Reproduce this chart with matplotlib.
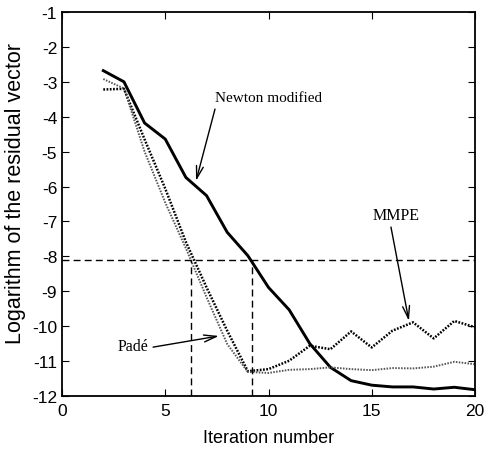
import matplotlib
matplotlib.use("Agg")
import matplotlib.pyplot as plt

# ---- data ----
iterations = list(range(2, 21))
newton_modified = [-2.68, -3.00, -4.18, -4.64, -5.74, -6.26, -7.31, -7.98, -8.89,
                   -9.53, -10.50, -11.18, -11.56, -11.69, -11.74, -11.74, -11.80, -11.75, -11.82]
mmpe = [-3.22, -3.20, -4.65, -6.06, -7.59, -8.89, -10.13, -11.29, -11.23,
        -10.99, -10.56, -10.66, -10.15, -10.61, -10.13, -9.89, -10.35, -9.85, -10.03]
pade = [-2.92, -3.19, -5.00, -6.46, -7.77, -9.17, -10.51, -11.31, -11.34,
        -11.25, -11.23, -11.18, -11.23, -11.26, -11.20, -11.21, -11.16, -11.02, -11.09]
threshold = -8.11
cross_pade_mmpe = 6.23
cross_newton = 9.19
xticks = [0, 5, 10, 15, 20]
yticks = [-1, -2, -3, -4, -5, -6, -7, -8, -9, -10, -11, -12]
ytick_labels = ["-1", "-2", "-3", "-4", "-5", "-6", "-7", "-8", "-9", "-10", "-11", "-12"]

plt.rcParams['axes.unicode_minus'] = False
fig = plt.figure(figsize=(4.88, 4.52), dpi=100)
ax = fig.add_axes([62/488, 1-397/452, 413/488, 384/452])

ax.plot(iterations, newton_modified, color='black', lw=2.1, solid_joinstyle='miter')
ax.plot(iterations, mmpe, color='black', lw=1.8, linestyle=(0, (0.7, 0.6)))
ax.plot(iterations, pade, color='#555555', lw=1.4, linestyle=(0, (0.8, 0.7)))

dash = (0, (5, 3))
ax.plot([0, 20], [threshold, threshold], color='black', lw=1.0, linestyle=dash)
ax.plot([cross_pade_mmpe, cross_pade_mmpe], [-12, threshold], color='black', lw=1.0, linestyle=dash)
ax.plot([cross_newton, cross_newton], [-12, threshold], color='black', lw=1.0, linestyle=dash)

ax.set_xlim(0, 20)
ax.set_ylim(-12, -1)
ax.set_xticks(xticks)
ax.set_xticklabels([str(t) for t in xticks])
ax.set_yticks(yticks)
ax.set_yticklabels(ytick_labels)
ax.tick_params(direction='in', top=True, right=True, length=5, width=0.8, pad=3.5,
               labelsize=12.5)
ax.tick_params(axis='x', pad=5)
for lab in ax.get_xticklabels() + ax.get_yticklabels():
    lab.set_family('Liberation Sans')
for sp in ax.spines.values():
    sp.set_linewidth(1.3)

ax.set_xlabel('Iteration number', family='Liberation Sans', fontsize=13)
ax.set_ylabel('Logarithm of the residual vector', family='Liberation Sans', fontsize=15.5)
ax.xaxis.set_label_coords(0.5, -0.085)
ax.yaxis.set_label_coords(-0.087, 0.53)

serif = 'Liberation Serif'
ax.text(9.98, -3.44, 'Newton modified', family=serif, fontsize=11, ha='center', va='center')
ax.text(16.17, -6.82, 'MMPE', family=serif, fontsize=11.5, ha='center', va='center')
ax.text(3.44, -10.57, 'Padé', family=serif, fontsize=11.5, ha='center', va='center')

ap = dict(arrowstyle='->,head_length=0.9,head_width=0.25', lw=1.0, color='black',
          shrinkA=0, shrinkB=0)
ax.annotate('', xy=(6.49, -5.84), xytext=(7.41, -3.78), arrowprops=ap)
ax.annotate('', xy=(16.80, -9.85), xytext=(15.93, -7.16), arrowprops=ap)
ax.annotate('', xy=(7.60, -10.28), xytext=(4.41, -10.60), arrowprops=ap)

fig.savefig('out.png', dpi=100)
